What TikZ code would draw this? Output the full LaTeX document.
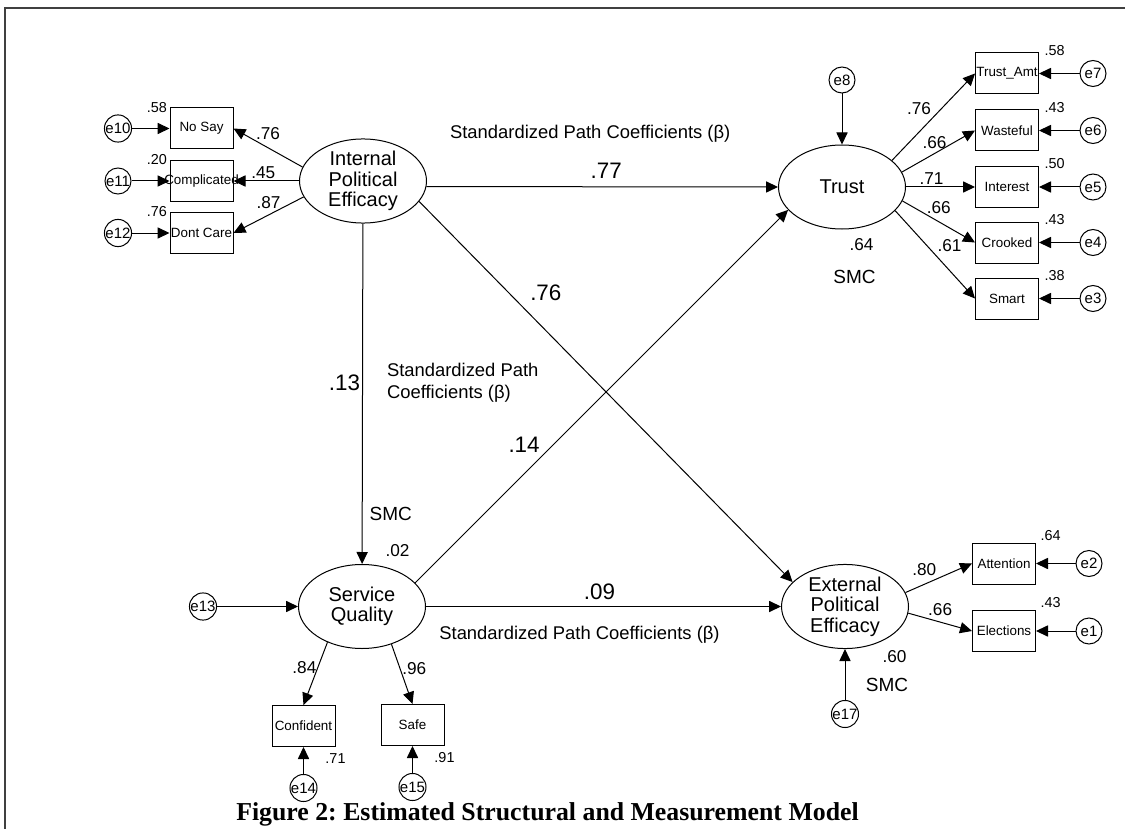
\documentclass[tikz,border=0pt]{standalone}
\usepackage{fontspec}
\setmainfont{Liberation Sans}
\newfontfamily\capfont{Liberation Serif}
\usetikzlibrary{arrows.meta,shapes.geometric}
\frenchspacing
\tikzstyle{arrow} = [-{Triangle[length=6pt,width=5.6pt]}]
\tikzstyle{latent} = [draw,ellipse,inner sep=0pt,minimum width=63.5pt,minimum height=42pt,align=center,font=\fontsize{10}{10.2}\selectfont]
\tikzstyle{obs} = [draw,minimum width=31.5pt,minimum height=20.5pt,inner sep=0pt,font=\fontsize{6.7}{7}\selectfont]
\tikzstyle{err} = [draw,circle,minimum size=13pt,inner sep=0pt,font=\fontsize{7.5}{8}\selectfont]
\tikzstyle{load} = [font=\fontsize{8.6}{9}\selectfont,inner sep=1pt]
\tikzstyle{coef} = [font=\fontsize{11.2}{12}\selectfont,inner sep=1pt]
\tikzstyle{rsq} = [font=\fontsize{7.2}{8}\selectfont,inner sep=1pt]
\tikzstyle{smc} = [font=\fontsize{9.5}{10}\selectfont,inner sep=1pt]
\tikzstyle{note} = [font=\fontsize{9.2}{11}\selectfont,align=left,inner sep=0pt]

\begin{document}
\begin{tikzpicture}[x=0.5pt,y=-0.5pt,line width=0.5pt]
  \useasboundingbox (0,0) rectangle (1125,829);
  % frame
  \draw[black!75,line width=1pt] (1125,8) -- (5,8) -- (5,829);

  % latent variables
  \node[latent] (ipe) at (363,181) {Internal\\Political\\Efficacy};
  \node[latent] (trust) at (842,187) {Trust};
  \node[latent] (sq) at (362,606.5) {Service\\Quality};
  \node[latent] (epe) at (845,606.5) {External\\Political\\Efficacy};

  % indicators
  \node[obs] (nosay) at (201.5,128.5) {No Say};
  \node[obs] (compl) at (201.5,181) {\makebox[31.5pt]{Complicated}};
  \node[obs] (dontcare) at (201.5,233) {Dont Care};
  \node[obs] (tamt) at (1007,73.5) {Trust\_Amt};
  \node[obs] (wasteful) at (1007,130.5) {Wasteful};
  \node[obs] (interest) at (1007,187) {Interest};
  \node[obs] (crooked) at (1007,242.5) {Crooked};
  \node[obs] (smart) at (1007,298.5) {Smart};
  \node[obs] (attention) at (1004,563.5) {Attention};
  \node[obs] (elections) at (1004,631) {Elections};
  \node[obs] (confident) at (303.5,726) {Confident};
  \node[obs] (safe) at (412.5,725) {Safe};

  % error terms
  \node[err] (e10) at (118,128.5) {e10};
  \node[err] (e11) at (118,181) {e11};
  \node[err] (e12) at (118,233) {e12};
  \node[err] (e7) at (1093,73.5) {e7};
  \node[err] (e6) at (1093,130.5) {e6};
  \node[err] (e5) at (1093,187) {e5};
  \node[err] (e4) at (1093,242.5) {e4};
  \node[err] (e3) at (1093,298.5) {e3};
  \node[err] (e2) at (1089,563.5) {e2};
  \node[err] (e1) at (1089,631) {e1};
  \node[err] (e8) at (842,80) {e8};
  \node[err] (e13) at (203,606.5) {e13};
  \node[err] (e14) at (303.5,788) {e14};
  \node[err] (e15) at (412.5,787) {e15};
  \node[err] (e17) at (845,714) {e17};

  % squared multiple correlations of indicators
  \node[rsq,anchor=east] (r10) at (nosay.north west) {.58};
  \node[rsq,anchor=east] (r11) at (compl.north west) {.20};
  \node[rsq,anchor=east] (r12) at (dontcare.north west) {.76};
  \node[rsq,anchor=west,xshift=1.5pt,yshift=1pt] (r7) at (tamt.north east) {.58};
  \node[rsq,anchor=west,xshift=1.5pt,yshift=1pt] (r6) at (wasteful.north east) {.43};
  \node[rsq,anchor=west,xshift=1.5pt,yshift=1pt] (r5) at (interest.north east) {.50};
  \node[rsq,anchor=west,xshift=1.5pt,yshift=1pt] (r4) at (crooked.north east) {.43};
  \node[rsq,anchor=west,xshift=1.5pt,yshift=1pt] (r3) at (smart.north east) {.38};
  \node[rsq,anchor=west,xshift=1pt,yshift=3.5pt] (r2) at (attention.north east) {.64};
  \node[rsq,anchor=west,xshift=1pt,yshift=3.5pt] (r1) at (elections.north east) {.43};
  \node[rsq,anchor=north,yshift=-2.2pt] (r14) at (confident.south east) {.71};
  \node[rsq,anchor=north,yshift=-2.2pt] (r15) at (safe.south east) {.91};

  % squared multiple correlations of latents
  \node[load] (smctrust) at (861.5,245) {.64};
  \node[smc] (smctrustlbl) at (854.5,276.5) {SMC};
  \node[load] (smcepe) at (894.5,656.5) {.60};
  \node[smc] (smcepelbl) at (887,685) {SMC};

  % measurement part
  \draw[arrow] (ipe.167) -- (nosay.east) node[load,midway,above=3pt] (l1) {.76};
  \draw[arrow] (ipe) -- (compl) node[load,midway,above,xshift=-1.5pt] (l2) {.45};
  \draw[arrow] (ipe.-165) -- (dontcare.east) node[load,midway,above=2pt] (l3) {.87};
  \draw[arrow] (e10) -- (nosay);
  \draw[arrow] (e11) -- (compl);
  \draw[arrow] (e12) -- (dontcare);

  \draw[arrow] (trust.28) -- (tamt.west) node[load,midway,above left] (l4) {.76};
  \draw[arrow] (trust.14) -- (wasteful.west) node[load,midway,above,xshift=-2pt] (l5) {.66};
  \draw[arrow] (trust) -- (interest) node[load,midway,above,xshift=-4.5pt] (l6) {.71};
  \draw[arrow] (trust.-13) -- (crooked.west) node[load,midway,above=3pt] (l7) {.66};
  \draw[arrow] (trust.-24) -- (smart.west) node[load,midway,above right] (l8) {.61};
  \draw[arrow] (e7) -- (tamt);
  \draw[arrow] (e6) -- (wasteful);
  \draw[arrow] (e5) -- (interest);
  \draw[arrow] (e4) -- (crooked);
  \draw[arrow] (e3) -- (smart);
  \draw[arrow] (e8) -- (trust);

  \draw[arrow] (epe.13) -- (attention.west) node[load,midway,above left] (l9) {.80};
  \draw[arrow] (epe.-6) -- (elections.west) node[load,midway,above=2pt] (l10) {.66};
  \draw[arrow] (e2) -- (attention);
  \draw[arrow] (e1) -- (elections);
  \draw[arrow] (e17) -- (epe);

  \draw[arrow] (sq.-134) -- (confident.north) node[load,pos=0.4,left,inner sep=0.5pt] (l11) {.84};
  \draw[arrow] (sq.-52) -- (safe.north) node[load,pos=0.4,right] (l12) {.96};
  \draw[arrow] (e13) -- (sq);
  \draw[arrow] (e14) -- (confident);
  \draw[arrow] (e15) -- (safe);

  % structural part
  \draw[arrow] (ipe.-5) -- (trust.west)
    node[coef,midway,above=3pt,xshift=2pt] (b1) {.77}
    node[note,midway,above=22pt,xshift=-6pt] (n1) {Standardized Path Coefficients (β)};
  \draw[arrow] (ipe) -- (sq)
    node[coef,pos=0.467,left] (b2) {.13}
    node[note,pos=0.467,right=12pt] (n2) {Standardized Path\\Coefficients (β)}
    node[smc,pos=0.852,right=2.5pt] (smcsq) {SMC}
    node[load,pos=0.962,right=10.5pt] (rsq) {.02};
  \draw[arrow] (ipe.-20) -- (epe.155) node[coef,pos=0.24,right=9.5pt] (b3) {.76};
  \draw[arrow] (sq.24) -- (trust.-157) node[coef,pos=0.37,left=5.5pt] (b4) {.14};
  \draw[arrow] (sq) -- (epe)
    node[coef,midway,above=2pt,xshift=-2pt] (b5) {.09}
    node[note,midway,below=9.5pt,xshift=-12pt] (n3) {Standardized Path Coefficients (β)};

  % caption
  \node[font=\capfont\bfseries\fontsize{12.9}{14}\selectfont,anchor=base] (caption) at (547.5,820)
    {Figure 2: Estimated Structural and Measurement Model};
\end{tikzpicture}
\end{document}
